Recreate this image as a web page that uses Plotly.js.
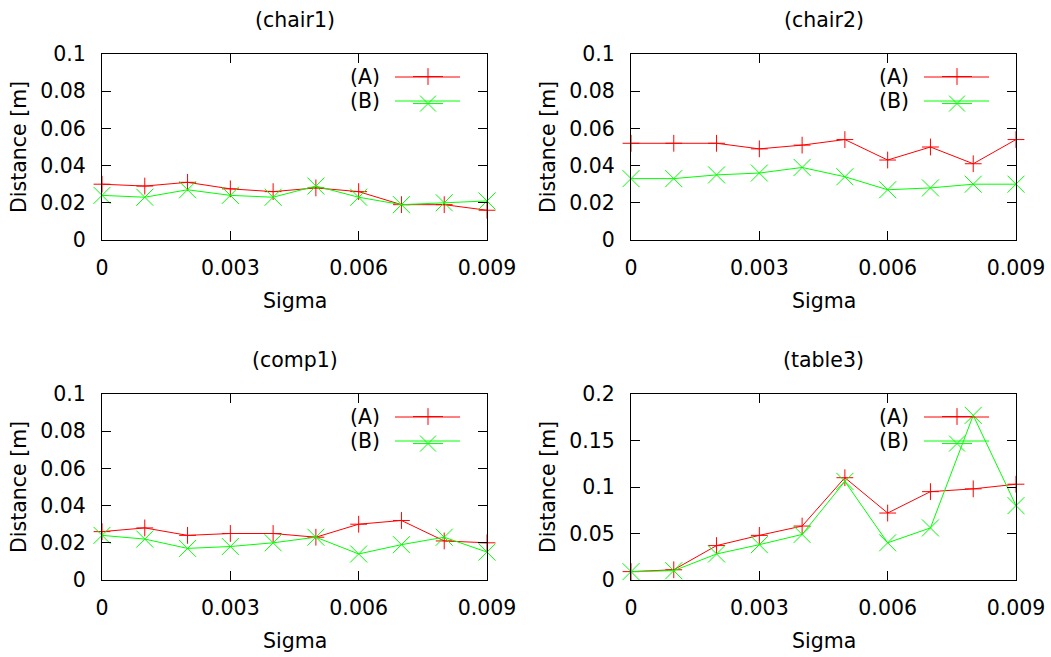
<!DOCTYPE html>
<html>
<head>
<meta charset="utf-8">
<script src="https://cdn.plot.ly/plotly-3.0.1.min.js"></script>
<style>html,body{margin:0;padding:0;background:#fff;}#chart{width:1051px;height:657px;}</style>
</head>
<body>
<div id="chart"></div>
<script>
// ---- data ----
var sigma = [0, 0.001, 0.002, 0.003, 0.004, 0.005, 0.006, 0.007, 0.008, 0.009];
var panelTitles = ['(chair1)', '(chair2)', '(comp1)', '(table3)'];
var seriesNames = ['(A)', '(B)'];
var chair1A = [0.030, 0.029, 0.031, 0.0275, 0.026, 0.028, 0.026, 0.019, 0.019, 0.016];
var chair1B = [0.024, 0.023, 0.027, 0.024, 0.023, 0.029, 0.023, 0.019, 0.020, 0.021];
var chair2A = [0.052, 0.052, 0.052, 0.049, 0.051, 0.054, 0.043, 0.050, 0.041, 0.054];
var chair2B = [0.033, 0.033, 0.035, 0.036, 0.039, 0.034, 0.027, 0.028, 0.030, 0.030];
var comp1A = [0.026, 0.028, 0.024, 0.025, 0.025, 0.023, 0.030, 0.032, 0.021, 0.020];
var comp1B = [0.024, 0.022, 0.017, 0.018, 0.020, 0.023, 0.014, 0.019, 0.023, 0.015];
var table3A = [0.009, 0.011, 0.037, 0.048, 0.058, 0.110, 0.072, 0.095, 0.098, 0.103];
var table3B = [0.009, 0.010, 0.028, 0.038, 0.049, 0.106, 0.040, 0.056, 0.177, 0.080];
var xTickVals = [0, 0.003, 0.006, 0.009];
var xTickText = ['0', '0.003', '0.006', '0.009'];
var yTickVals1 = [0, 0.02, 0.04, 0.06, 0.08, 0.1];
var yTickText1 = ['0', '0.02', '0.04', '0.06', '0.08', '0.1'];
var yTickVals2 = [0, 0.05, 0.1, 0.15, 0.2];
var yTickText2 = ['0', '0.05', '0.1', '0.15', '0.2'];
var xLabel = 'Sigma';
var yLabel = 'Distance [m]';

// ---- layout helpers ----
var W = 1051, H = 657;
var FONT = 'DejaVu Sans, Verdana, sans-serif';
var FS = 20.5;
function px(x) { return x / W; }
function py(y) { return 1 - y / H; }
var panels = [
  {x0: 102, x1: 487, y0: 54, y1: 240, A: chair1A, B: chair1B, yv: yTickVals1, yt: yTickText1, yr: [0, 0.1]},
  {x0: 631, x1: 1016, y0: 54, y1: 240, A: chair2A, B: chair2B, yv: yTickVals1, yt: yTickText1, yr: [0, 0.1]},
  {x0: 102, x1: 487, y0: 394, y1: 580, A: comp1A, B: comp1B, yv: yTickVals1, yt: yTickText1, yr: [0, 0.1]},
  {x0: 631, x1: 1016, y0: 394, y1: 580, A: table3A, B: table3B, yv: yTickVals2, yt: yTickText2, yr: [0, 0.2]}
];
var RED = '#ff0000', GREEN = '#00ff00';
var data = [], annotations = [], shapes = [];
var layout = {
  width: W, height: H,
  margin: {l: 0, r: 0, t: 0, b: 0},
  paper_bgcolor: '#ffffff', plot_bgcolor: '#ffffff',
  font: {family: FONT, size: FS, color: '#000000'},
  showlegend: true
};
panels.forEach(function (p, i) {
  var n = i + 1;
  var xa = 'x' + (n === 1 ? '' : n), ya = 'y' + (n === 1 ? '' : n);
  var lg = 'legend' + (n === 1 ? '' : n);
  var common = {
    showline: true, linecolor: '#000', linewidth: 1, mirror: 'allticks',
    ticks: 'inside', ticklen: 9, tickwidth: 1, tickcolor: '#000',
    showgrid: false, zeroline: false, fixedrange: true,
    tickfont: {family: FONT, size: FS, color: '#000'}
  };
  layout['xaxis' + (n === 1 ? '' : n)] = Object.assign({}, common, {
    domain: [px(p.x0), px(p.x1)], anchor: ya, range: [0, 0.009],
    tickmode: 'array', tickvals: xTickVals, ticktext: xTickText, ticklabelstandoff: 9
  });
  layout['yaxis' + (n === 1 ? '' : n)] = Object.assign({}, common, {
    domain: [py(p.y1), py(p.y0)], anchor: xa, range: p.yr,
    tickmode: 'array', tickvals: p.yv, ticktext: p.yt, ticklabelstandoff: 11
  });
  [['A', RED, 'cross-thin-open', 12], ['B', GREEN, 'x-thin-open', 17]].forEach(function (s, k) {
    data.push({
      type: 'scatter', mode: 'lines+markers', x: sigma, y: p[s[0]],
      xaxis: xa, yaxis: ya, legend: lg, name: '', cliponaxis: false,
      line: {color: s[1], width: 1},
      marker: {symbol: s[2], size: s[3], color: s[1], line: {color: s[1], width: 1}},
      hoverinfo: 'x+y'
    });
    var ly = p.y0 + 23 + 24 * k;
    annotations.push({
      xref: 'paper', yref: 'paper', x: px(p.x0 + 280), y: py(ly),
      xanchor: 'right', yanchor: 'middle', showarrow: false, text: seriesNames[k],
      font: {family: FONT, size: FS, color: '#000'}
    });
    // legend sample line (gnuplot-style long key sample)
    shapes.push({type: 'line', xref: 'paper', yref: 'paper', x0: px(p.x0 + 293), x1: px(p.x0 + 358),
      y0: py(ly), y1: py(ly), line: {color: s[1], width: 1}});
  });
  layout[lg] = {
    x: px(p.x0 + 306), y: py(p.y0 + 4), xanchor: 'left', yanchor: 'top',
    bgcolor: 'rgba(0,0,0,0)', borderwidth: 0, font: {family: FONT, size: 18.5},
    itemclick: false, itemdoubleclick: false
  };
  var cx = (p.x0 + p.x1) / 2;
  annotations.push({xref: 'paper', yref: 'paper', x: px(cx), y: py(p.y0 - 34), xanchor: 'center', yanchor: 'middle',
    showarrow: false, text: panelTitles[i], font: {family: FONT, size: FS, color: '#000'}});
  annotations.push({xref: 'paper', yref: 'paper', x: px(cx), y: py(p.y1 + 61), xanchor: 'center', yanchor: 'middle',
    showarrow: false, text: xLabel, font: {family: FONT, size: FS, color: '#000'}});
  annotations.push({xref: 'paper', yref: 'paper', x: px(p.x0 - 83), y: py((p.y0 + p.y1) / 2), xanchor: 'center', yanchor: 'middle',
    showarrow: false, textangle: -90, text: yLabel, font: {family: FONT, size: FS, color: '#000'}});
});
layout.annotations = annotations;
layout.shapes = shapes;
Plotly.newPlot('chart', data, layout, {displayModeBar: false, staticPlot: false});
</script>
</body>
</html>
